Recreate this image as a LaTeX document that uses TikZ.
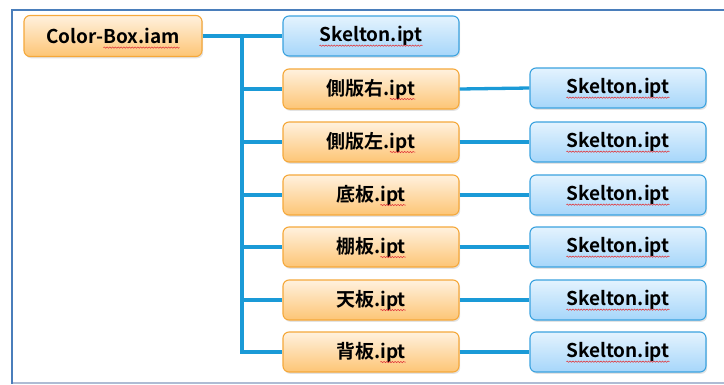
\documentclass[tikz,border=0pt]{standalone}
\usepackage{fontspec}
\setmainfont{Noto Sans CJK JP}[BoldFont={* Bold}]
\usetikzlibrary{shadows,decorations.pathmorphing}

\definecolor{framecol}{HTML}{4A7EBB}
\definecolor{framebot}{HTML}{AEBCD4}
\definecolor{linkcol}{HTML}{1A9AD7}
\definecolor{orgline}{HTML}{F5A83A}
\definecolor{orgtop}{HTML}{FFF1DE}
\definecolor{orgbot}{HTML}{FDC575}
\definecolor{bluline}{HTML}{3AA2DF}
\definecolor{blutop}{HTML}{E4F3FE}
\definecolor{blubot}{HTML}{A6D6FA}
\definecolor{spellred}{HTML}{E0353A}

\tikzset{
  labelfont/.style={font=\fontsize{19}{21}\selectfont\bfseries},
  box/.style={labelfont,rounded corners=6pt,line width=1.1pt,minimum height=40pt,
    inner sep=0pt,text=black,
    drop shadow={opacity=0.22,shadow xshift=1.2pt,shadow yshift=-1.8pt}},
  partbox/.style={box,draw=orgline,top color=orgtop,bottom color=orgbot,minimum width=176pt},
  skelbox/.style={box,draw=bluline,top color=blutop,bottom color=blubot,minimum width=176pt},
  link/.style={draw=linkcol,line width=3.3pt},
  ghost/.style={labelfont,inner sep=0pt,outer sep=0pt},
  wave/.style={spellred,line width=0.55pt,decorate,
    decoration={snake,amplitude=0.65pt,segment length=2.8pt}},
}

% red wavy underline under the tail #3 of the label #2 of box #1
\newcommand\squig[3]{%
  \node[ghost] (#1-full) at (#1.center) {\phantom{#2}};
  \node[ghost,anchor=east] (#1-tail) at (#1-full.east) {\phantom{#3}};
  \coordinate (#1-wa) at (#1-full.base -| #1-tail.west);
  \draw[wave] ([yshift=-4pt]#1-wa) -- ([yshift=-4pt]#1-full.base east);
}

\begin{document}
\begin{tikzpicture}[x=1pt,y=-1pt]
\useasboundingbox (0,0) rectangle (724,384);

% outer frame
\draw[framebot,line width=1.5pt] (12,383) -- (724,383);
\draw[framecol,line width=2pt] (724,9.5) -- (12,9.5) -- (12,384);

% assembly and its skeleton
\node[partbox,minimum width=178pt,minimum height=41pt] (root) at (113,36) {Color-Box.iam};
\node[skelbox] (sk0) at (371,36) {Skelton.ipt};

% parts
\node[partbox] (p1) at (371,89)  {側版右.ipt};
\node[partbox] (p2) at (371,142) {側版左.ipt};
\node[partbox] (p3) at (371,195) {底板.ipt};
\node[partbox] (p4) at (371,247) {棚板.ipt};
\node[partbox] (p5) at (371,300) {天板.ipt};
\node[partbox] (p6) at (371,352) {背板.ipt};

% skeletons of the parts
\foreach \i/\y in {1/88,2/142,3/195,4/247,5/300,6/352}
  \node[skelbox] (s\i) at (618,\y) {Skelton.ipt};

% spell-check underlines
\squig{root}{Color-Box.iam}{Box.iam}
\squig{sk0}{Skelton.ipt}{Skelton.ipt}
\squig{p1}{側版右.ipt}{ipt}
\squig{p2}{側版左.ipt}{ipt}
\squig{p3}{底板.ipt}{ipt}
\squig{p4}{棚板.ipt}{ipt}
\squig{p5}{天板.ipt}{ipt}
\squig{p6}{背板.ipt}{ipt}
\foreach \i in {1,...,6} {\squig{s\i}{Skelton.ipt}{Skelton.ipt}}

% tree connectors
\coordinate (trunk) at (242,36);
\draw[link] (root.east) -- (sk0.west);
\draw[link] (trunk) |- (p6.west);
\foreach \i in {1,...,5}
  \draw[link] (trunk |- p\i.west) -- (p\i.west);
\foreach \i in {1,...,6}
  \draw[link] (p\i.east) -- (s\i.west);
\end{tikzpicture}
\end{document}
